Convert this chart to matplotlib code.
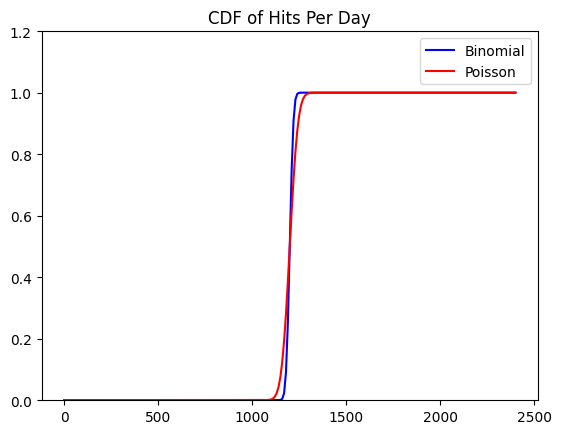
import matplotlib
matplotlib.use('Agg')
import matplotlib.pyplot as plt

# values
binom_x = [0, 1140, 1150, 1160, 1170, 1180, 1190, 1200, 1210, 1220, 1230, 1240, 1250, 1260, 2400]
binom_cdf = [0.0, 0.0, 0.0004, 0.0038, 0.0228, 0.0918, 0.2525, 0.5, 0.7475, 0.9082, 0.9772, 0.9962,
             0.9996, 1.0, 1.0]

pois_x = [0, 1080, 1090, 1100, 1110, 1120, 1130, 1140, 1150, 1160, 1170, 1180, 1190, 1200,
          1210, 1220, 1230, 1240, 1250, 1260, 1270, 1280, 1290, 1300, 1310, 1320, 1330, 2400]
pois_cdf = [0.0, 0.0003, 0.0007, 0.0019, 0.0047, 0.0104, 0.0216, 0.0416, 0.0742, 0.1238, 0.1930,
            0.2816, 0.3863, 0.5, 0.6137, 0.7184, 0.8070, 0.8762, 0.9258, 0.9584, 0.9784, 0.9896,
            0.9953, 0.9981, 0.9993, 0.9997, 1.0, 1.0]

fig = plt.figure(figsize=(5.61, 4.35), dpi=100)
fig.subplots_adjust(left=0.074, right=0.959, bottom=0.078, top=0.926)
ax = fig.add_subplot(111)

ax.plot(binom_x, binom_cdf, color='blue', label='Binomial')
ax.plot(pois_x, pois_cdf, color='red', label='Poisson')

ax.set_ylim(0, 1.2)
ax.set_title('CDF of Hits Per Day')
ax.legend()

fig.savefig('out.png', dpi=100)
